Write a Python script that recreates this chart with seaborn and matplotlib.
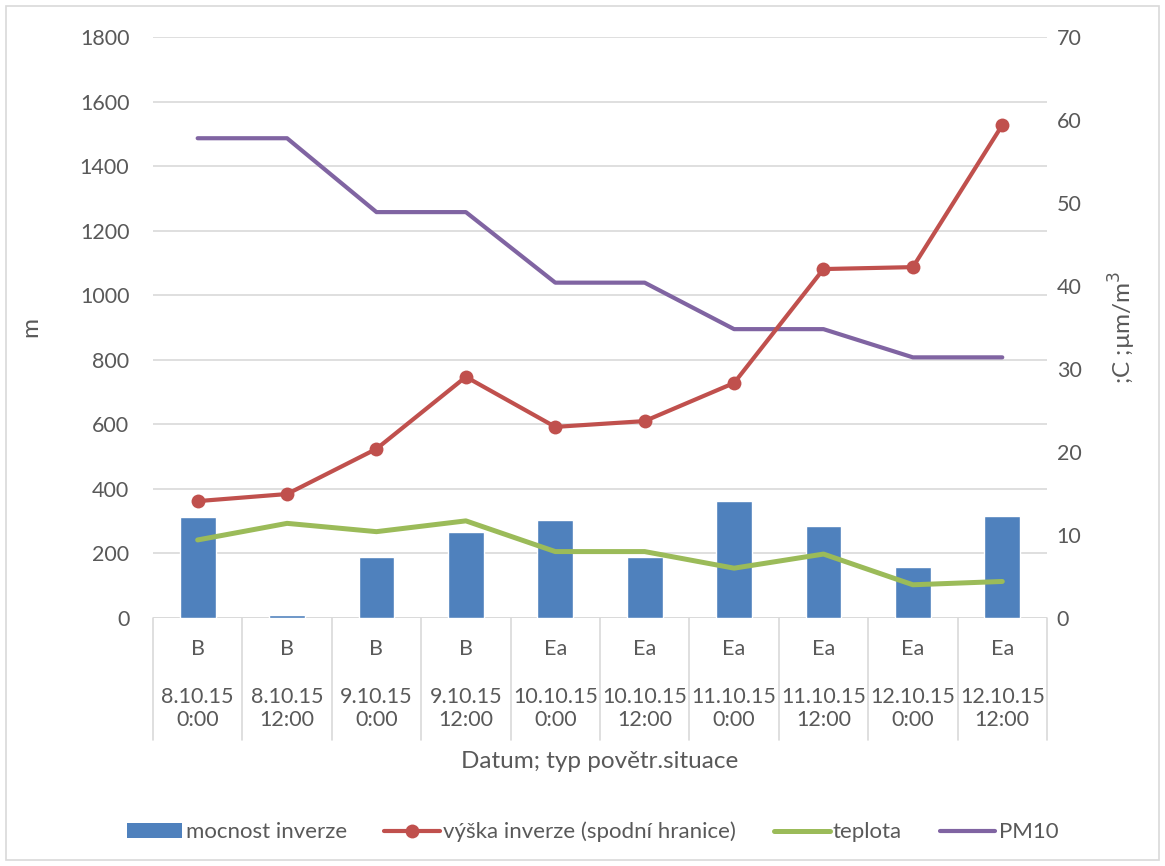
import matplotlib
matplotlib.use("Agg")
import matplotlib.pyplot as plt
import matplotlib.transforms as mtransforms
from matplotlib.patches import Rectangle, Patch
from matplotlib.lines import Line2D
import seaborn as sns
import pandas as pd
import numpy as np

# --- data -------------------------------------------------------------
situace = ["B", "B", "B", "B", "Ea", "Ea", "Ea", "Ea", "Ea", "Ea"]
datum = ["8.10.15", "8.10.15", "9.10.15", "9.10.15", "10.10.15",
         "10.10.15", "11.10.15", "11.10.15", "12.10.15", "12.10.15"]
cas = ["0:00", "12:00", "0:00", "12:00", "0:00",
       "12:00", "0:00", "12:00", "0:00", "12:00"]
mocnost_inverze = [313, 9, 189, 266, 304, 188, 362, 285, 158, 316]
vyska_inverze = [362, 384, 524, 747, 592, 610, 728, 1081, 1087, 1527]
teplota = [9.4, 11.4, 10.4, 11.7, 8.0, 8.0, 6.0, 7.7, 4.0, 4.4]
pm10 = [57.8, 57.8, 48.9, 48.9, 40.4, 40.4, 34.8, 34.8, 31.4, 31.4]
y_left_ticks = [0, 200, 400, 600, 800, 1000, 1200, 1400, 1600, 1800]
y_right_ticks = [0, 10, 20, 30, 40, 50, 60, 70]

C_BAR = "#4F81BD"
C_RED = "#C0504D"
C_GREEN = "#9BBB59"
C_PURPLE = "#8064A2"
C_TEXT = "#595959"
C_GRID = "#D9D9D9"

FS_TICK = 15.5
FS_LEG = 16
FS_TITLE = 17.5

sns.set_theme(style="white")
plt.rcParams["font.family"] = ["Lato", "DejaVu Sans"]

df = pd.DataFrame({
    "pos": np.arange(len(situace)),
    "mocnost": mocnost_inverze,
    "vyska": vyska_inverze,
    "teplota": teplota,
    "pm10": pm10,
})

fig = plt.figure(figsize=(11.65, 8.66), dpi=100)
rect = [0.1313, 0.2864, 0.7674, 0.6709]
ax = fig.add_axes(rect)          # bars, grid, left scale
ax2 = ax.twinx()                 # temperature / PM10, right scale
ax3 = ax.twinx()                 # inversion height line, drawn on top

# bars: inversion thickness
sns.barplot(data=df, x="pos", y="mocnost", color=C_BAR, width=0.4,
            saturation=1, ax=ax, zorder=2)
# temperature and PM10 on the right axis
sns.lineplot(data=df, x="pos", y="teplota", color=C_GREEN, lw=3.6, ax=ax2)
sns.lineplot(data=df, x="pos", y="pm10", color=C_PURPLE, lw=3.0, ax=ax2)
# inversion base height, left scale
sns.lineplot(data=df, x="pos", y="vyska", color=C_RED, lw=3.0,
             marker="o", markersize=10, markeredgewidth=0, ax=ax3)

n = len(situace)
for a in (ax, ax2, ax3):
    a.set_xlim(-0.5, n - 0.5)
    for s in a.spines.values():
        s.set_visible(False)
    a.set_xticks([])
    a.set_xlabel("")

ax.set_zorder(1)
ax2.set_zorder(2)
ax3.set_zorder(3)
ax2.patch.set_visible(False)
ax3.patch.set_visible(False)

ax.set_ylim(0, 1800)
ax3.set_ylim(0, 1800)
ax.set_yticks(y_left_ticks)
ax3.set_yticks([])
ax3.set_ylabel("")
ax2.set_ylim(0, 70)
ax2.set_yticks(y_right_ticks)
ax.yaxis.grid(True, color=C_GRID, lw=1.2, zorder=0)
ax.set_axisbelow(True)
ax.tick_params(axis="y", length=0, labelsize=FS_TICK, labelcolor=C_TEXT, pad=17)
ax2.tick_params(axis="y", length=0, labelsize=FS_TICK, labelcolor=C_TEXT, pad=7)
ax.set_ylabel("m", fontsize=FS_TITLE, color=C_TEXT, labelpad=28)
ax2.set_ylabel(";C ;µm/m$^3$", fontsize=FS_TITLE, color=C_TEXT, labelpad=18)

# bottom axis line
ax.axhline(0, color=C_GRID, lw=1.2, zorder=1)

# multi-level category axis
trans = mtransforms.blended_transform_factory(ax.transData, ax.transAxes)
ax_h_px = rect[3] * 866
def ypx(px):
    return -px / ax_h_px

for b in np.arange(-0.5, n, 1.0):
    ax.plot([b, b], [0, ypx(122)], transform=trans, color=C_GRID, lw=1.2,
            clip_on=False)
for i in range(n):
    ax.text(i, ypx(31), situace[i], transform=trans, ha="center", va="center",
            fontsize=FS_TICK, color=C_TEXT)
    ax.text(i, ypx(79), datum[i], transform=trans, ha="center", va="center",
            fontsize=FS_TICK, color=C_TEXT)
    ax.text(i, ypx(102), cas[i], transform=trans, ha="center", va="center",
            fontsize=FS_TICK, color=C_TEXT)
ax.text((n - 1) / 2, ypx(144), "Datum; typ povětr.situace", transform=trans,
        ha="center", va="center", fontsize=FS_TITLE, color=C_TEXT)

# legend
handles = [
    Patch(facecolor=C_BAR, edgecolor="none"),
    Line2D([], [], color=C_RED, lw=3.0, marker="o", markersize=10, markeredgewidth=0),
    Line2D([], [], color=C_GREEN, lw=3.6),
    Line2D([], [], color=C_PURPLE, lw=3.0),
]
labels = ["mocnost inverze", "výška inverze (spodní hranice)", "teplota", "PM10"]
fig.legend(handles, labels, loc="center",
           bbox_to_anchor=(0.5 + 10 / 1165, 1 - 832 / 866),
           ncol=4, frameon=False, fontsize=FS_LEG, labelcolor=C_TEXT,
           handlelength=2.5, handletextpad=0.15, columnspacing=1.7)

# chart border
fig.patches.append(Rectangle((6 / 1165, 6 / 866), 1 - 12 / 1165, 1 - 12 / 866,
                             transform=fig.transFigure, fill=False,
                             edgecolor=C_GRID, lw=1.2))

fig.savefig("out.png", dpi=100)
